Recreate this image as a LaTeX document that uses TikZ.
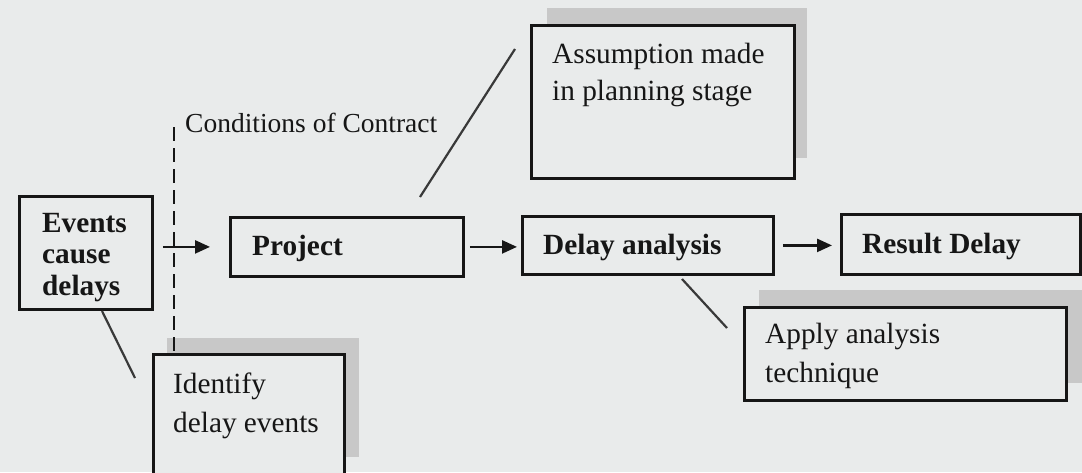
\documentclass[tikz,border=0pt]{standalone}
\usepackage{fontspec}
\setmainfont{Liberation Serif}
\usetikzlibrary{arrows.meta,calc}
\definecolor{paper}{RGB}{233,235,235}
\definecolor{shade}{RGB}{200,200,200}
\definecolor{ink}{RGB}{22,22,22}
\tikzset{
  box/.style={draw=ink, line width=2.8pt, fill=paper, inner sep=0pt, anchor=north west},
  shadowbox/.style={fill=shade},
  flow/.style={draw=ink, line width=2.4pt, -{Triangle[length=15pt,width=13pt]}},
  tie/.style={draw=ink!85, line width=2.2pt},
  border/.style={draw=ink, line width=2.6pt, dash pattern=on 14pt off 7pt},
  plain/.style={inner sep=0pt, align=left, text=ink, anchor=north west},
  boldtxt/.style={inner sep=0pt, text=ink, anchor=base west,
    font=\fontsize{29.3}{33}\selectfont\bfseries},
}
\begin{document}
\begin{tikzpicture}[x=1pt,y=-1pt]
  \useasboundingbox (0,0) rectangle (1082,472);
  \clip (0,0) rectangle (1082,472);
  \fill[paper] (0,0) rectangle (1082,472);

  % drop shadows behind the note boxes
  \fill[shadowbox] (547,8) rectangle (807,158);
  \fill[shadowbox] (167,338) rectangle (359,457);
  \fill[shadowbox] (759,290) rectangle (1082,383);

  % boxes
  \node[box, minimum width=133, minimum height=113] (events) at (18,195) {};
  \node[box, minimum width=233, minimum height=59]  (proj)   at (229,216) {};
  \node[box, minimum width=251, minimum height=58]  (delay)  at (521,215) {};
  \node[box, minimum width=239, minimum height=60]  (result) at (840,213) {};
  \node[box, minimum width=263, minimum height=153] (assume) at (530,24) {};
  \node[box, minimum width=191, minimum height=130] (ident)  at (152,353) {};
  \node[box, minimum width=322, minimum height=93]  (apply)  at (743,306) {};

  % box texts
  \node[plain, font=\fontsize{29.3}{31.5}\selectfont\bfseries] (events-t) at (42,213)
    {Events\\cause\\delays};
  \node[boldtxt] (proj-t)   at (252,255) {Project};
  \node[boldtxt] (delay-t)  at (543,254) {Delay analysis};
  \node[boldtxt] (result-t) at (862,253) {Result Delay};
  \node[plain, font=\fontsize{29.3}{37}\selectfont] (assume-t) at (552,43)
    {Assumption made\\in planning stage};
  \node[plain, font=\fontsize{29.3}{39}\selectfont] (ident-t) at (173,373)
    {Identify\\delay events};
  \node[plain, font=\fontsize{29.3}{38.5}\selectfont] (apply-t) at (765,323)
    {Apply analysis\\technique};

  % contract boundary
  \coordinate (c1) at (174,127);
  \coordinate (c2) at (174,352);
  \draw[border] (c1) -- (c2);
  \node[inner sep=0pt, anchor=base west, text=ink, font=\fontsize{27.5}{30}\selectfont]
    (cond) at (185,132) {Conditions of Contract};

  % main flow
  \draw[flow, shorten <=9pt, shorten >=19pt] (events.east |- proj.west) -- (proj.west);
  \draw[flow, shorten <=5pt, shorten >=4pt] (proj.east) -- (proj.east -| delay.west);
  \draw[flow, shorten <=8pt, shorten >=8pt] (delay.east) -- (delay.east -| result.west);

  % links to the notes
  \coordinate (e1) at (102,311);
  \coordinate (e2) at (135,378);
  \draw[tie] (e1) -- (e2);
  \coordinate (p1) at (420,197);
  \coordinate (p2) at (515,49);
  \draw[tie] (p1) -- (p2);
  \coordinate (d1) at (682,279);
  \coordinate (d2) at (727,328);
  \draw[tie] (d1) -- (d2);
\end{tikzpicture}
\end{document}
